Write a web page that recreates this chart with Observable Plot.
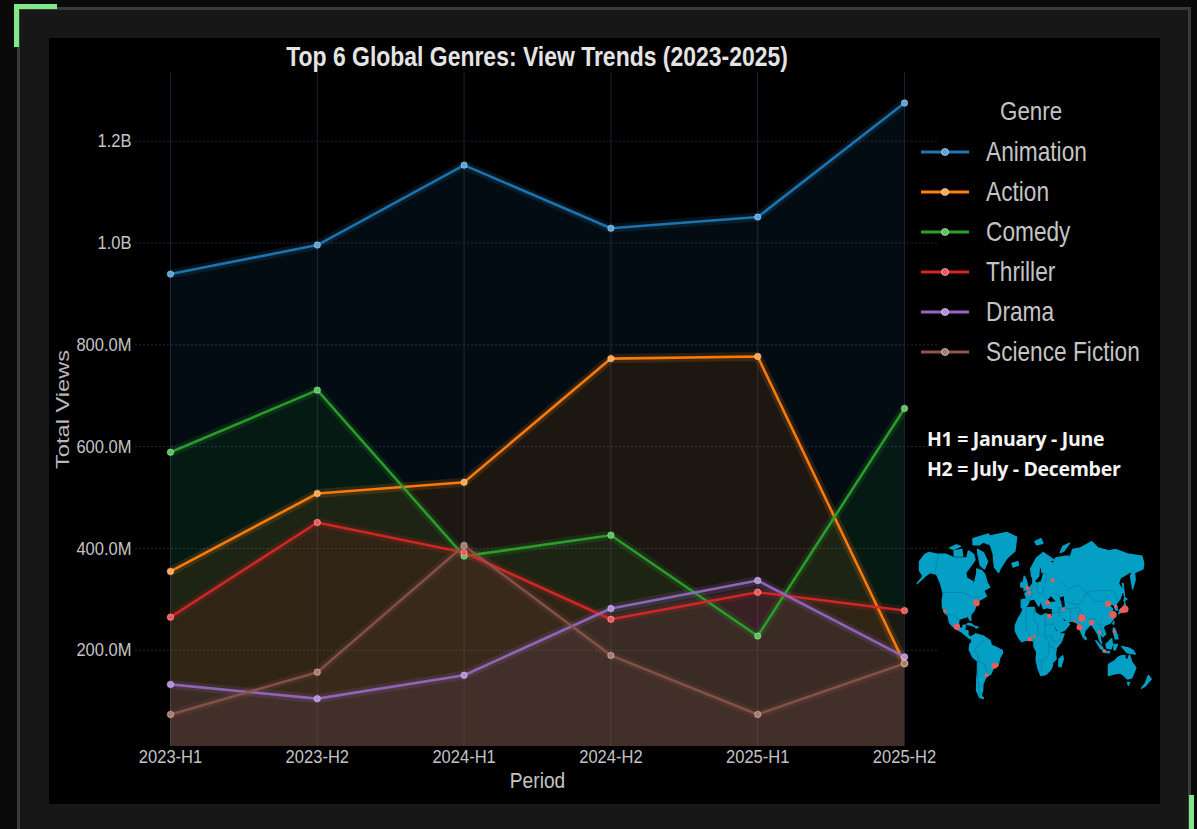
<!DOCTYPE html>
<html><head><meta charset="utf-8">
<script src="https://cdn.jsdelivr.net/npm/d3@7"></script>
<script src="https://cdn.jsdelivr.net/npm/@observablehq/plot@0.6"></script>
<style>
html,body{margin:0;padding:0;background:#0a0a0a;width:1197px;height:829px;overflow:hidden}
#frame{position:absolute;left:17px;top:7px;width:1168px;height:840px;background:#171717;border:3px solid #3a3a3a}
.corner{position:absolute;background:#7fe88a}
#panel{position:absolute;left:49px;top:38px;width:1111px;height:766px;background:#000}
#chart,#map{position:absolute}
#chart{left:49px;top:38px}
#map{left:905px;top:525px}
#title{position:absolute;left:49px;width:976px;top:42px;text-align:center;font:bold 27px/30px "Liberation Sans",sans-serif;color:#e4e4e4;transform:scaleX(.85);transform-origin:488px 0;white-space:nowrap}
#legend{position:absolute;left:921px;top:92px;width:239px;font-family:"Liberation Sans",sans-serif;color:#c4c4c4}
#legend .h{position:absolute;left:79px;top:4px;font-size:26px;line-height:30px;transform:scaleX(.86);transform-origin:0 0}
#legend .r{position:absolute;left:0;height:30px;width:239px}
#legend .r span{position:absolute;left:65px;top:0;font-size:28px;line-height:30px;white-space:nowrap;transform:scaleX(.81);transform-origin:0 0}
#legend svg{position:absolute;left:0;top:0}
#notes{position:absolute;left:927px;top:424px;font:bold 19.5px/30px "Open Sans",sans-serif;color:#f4f4f4;letter-spacing:-.3px;white-space:nowrap}
</style></head><body>
<div id="frame"></div>
<div class="corner" style="left:14px;top:4px;width:43px;height:5px"></div>
<div class="corner" style="left:14px;top:4px;width:5px;height:43px"></div>
<div class="corner" style="left:1189px;top:795px;width:5px;height:34px"></div>
<div id="panel"></div>
<div id="chart"></div>
<div id="map"></div>
<div id="title">Top 6 Global Genres: View Trends (2023-2025)</div>
<div id="legend"></div>
<div id="notes"><div>H1 = January - June</div><div>H2 = July - December</div></div>
<script>
// ---------- chart data (millions of views) ----------
const periods = ["2023-H1","2023-H2","2024-H1","2024-H2","2025-H1","2025-H2"];
const genres = ["Animation","Action","Comedy","Thriller","Drama","Science Fiction"];
const colors = ["#1f77b4","#ff7f0e","#2ca02c","#d62728","#9467bd","#8c564b"];
const dotColors = ["#5aa5dc","#ffa850","#5cc45c","#f0585a","#b48ee0","#a87c6e"];
const animation = [939,996,1153,1029,1051,1275];
const action    = [355,508,530,773,777,174];
const comedy    = [589,711,385,426,228,675];
const thriller  = [265,451,392,261,314,278];
const drama     = [133,105,151,282,337,187];
const sciFi     = [74,157,406,190,74,174];
const seriesValues = [animation,action,comedy,thriller,drama,sciFi];
const yTicks = [200,400,600,800,1000,1200];
const yDomain = [11,1335];

const rows = genres.flatMap((g,i)=>periods.map((p,j)=>({genre:g,period:p,views:seriesValues[i][j]})));
const fmt = v => v>=1000 ? (v/1000).toFixed(1)+"B" : v.toFixed(1)+"M";
const sans = '"Liberation Sans",sans-serif';
const colorScale = {domain:genres,range:colors};

const chart = Plot.plot({
  width:1111,height:766,marginLeft:121,marginRight:256,marginTop:34,marginBottom:58,
  style:{background:"transparent",fontFamily:sans,fontSize:"19px",color:"#c4c4c4",overflow:"visible"},
  x:{type:"point",domain:periods,label:null,padding:0,round:false},
  y:{domain:yDomain,label:null},
  color:colorScale,
  marks:[
    Plot.ruleX(periods,{x:d=>d,stroke:"#1e1e30",strokeWidth:1}),
    Plot.ruleY(yTicks,{y:d=>d,stroke:"#26263e",strokeWidth:1,strokeDasharray:"2,2",insetLeft:-35,insetRight:-35}),
    ...genres.map(g=>Plot.areaY(rows.filter(d=>d.genre===g),{x:"period",y1:yDomain[0],y2:"views",fill:"genre",fillOpacity:.1})),
    ...genres.map(g=>Plot.lineY(rows.filter(d=>d.genre===g),{x:"period",y:"views",stroke:"genre",strokeWidth:9,strokeOpacity:.16})),
    ...genres.map(g=>Plot.lineY(rows.filter(d=>d.genre===g),{x:"period",y:"views",stroke:"genre",strokeWidth:2.6,strokeOpacity:g==="Science Fiction"?.85:.95})),
    Plot.dot(rows,{x:"period",y:"views",r:3.2,fill:d=>dotColors[genres.indexOf(d.genre)],stroke:"#ffffff",strokeOpacity:.35,strokeWidth:1}),
    Plot.axisX({tickSize:0,tickPadding:3,fontSize:19,label:null,fill:"#c4c4c4"}),
    Plot.axisY({ticks:yTicks,tickFormat:fmt,tickSize:0,tickPadding:39,fontSize:19,label:null,fill:"#c4c4c4"}),
    Plot.text(["Period"],{frameAnchor:"bottom",textAnchor:"middle",dy:41,fontSize:22,fill:"#c4c4c4"}),
    Plot.text(["Total Views"],{frameAnchor:"left",textAnchor:"middle",rotate:-90,dx:-108,fontSize:19,fill:"#b8b8b8"})
  ]
});
document.getElementById("chart").append(chart);
// the reference's type is horizontally condensed
chart.querySelectorAll("text").forEach(t=>{
  if (t.textContent==="Total Views") { t.setAttribute("textLength",119); t.setAttribute("lengthAdjust","spacingAndGlyphs"); return; }
  t.setAttribute("textLength",(t.getComputedTextLength()*.87).toFixed(1));
  t.setAttribute("lengthAdjust","spacingAndGlyphs");
});

// ---------- legend ----------
const legend = document.getElementById("legend");
legend.innerHTML = '<div class="h">Genre</div>' + genres.map((g,i)=>
  `<div class="r" style="top:${44.6+i*40.1}px"><svg width="50" height="30"><line x1="0" x2="48" y1="15" y2="15" stroke="${colors[i]}" stroke-width="3"/><circle cx="24" cy="15" r="3.6" fill="${dotColors[i]}" stroke="#fff" stroke-opacity=".5"/></svg><span>${g}</span></div>`).join("");

// ---------- map data: [lon, lat] rings ----------
const landRings = [
 [[-168,66],[-162,70],[-156,71],[-141,70],[-128,70],[-115,68],[-108,68],[-95,68],[-94,72],[-85,70],[-82,67],[-87,64],[-94,60],[-92,57],[-82,55],[-80,51],[-79,55],[-77,60],[-78,62],[-70,61],[-65,59],[-60,54],[-56,52],[-65,50],[-60,46],[-66,44],[-70,43],[-74,40],[-76,35],[-81,31],[-80,26],[-82,27],[-84,30],[-90,29],[-97,27],[-97,22],[-95,18],[-91,18],[-90,21],[-87,21],[-88,16],[-83,15],[-83,10],[-78,9],[-80,7],[-85,10],[-92,14],[-97,16],[-105,20],[-110,24],[-113,31],[-117,32],[-122,37],[-124,43],[-124,48],[-130,54],[-138,59],[-148,60],[-155,58],[-165,54],[-158,58],[-165,61]],
 [[-73,78],[-60,82],[-35,84],[-18,81],[-20,72],[-32,68],[-42,62],[-44,60],[-51,63],[-54,70],[-60,76]],
 [[-80,73],[-70,71],[-62,66],[-66,62],[-73,64],[-78,70]],
 [[-117,72],[-105,73],[-102,69],[-115,69]],
 [[-90,80],[-65,83],[-62,81],[-78,76],[-88,76]],
 [[-125,74],[-115,76],[-108,75],[-118,73]],
 [[-85,22],[-75,20],[-78,22],[-82,23]],
 [[-74,20],[-69,19],[-72,18]],
 [[-78,9],[-72,12],[-62,10],[-52,5],[-50,0],[-44,-2],[-35,-6],[-35,-9],[-39,-15],[-41,-22],[-48,-26],[-53,-34],[-58,-35],[-62,-39],[-65,-43],[-66,-48],[-69,-52],[-66,-55],[-72,-54],[-75,-48],[-73,-38],[-71,-30],[-70,-18],[-76,-14],[-81,-5],[-80,1],[-77,4],[-78,7]],
 [[-17,15],[-17,21],[-13,28],[-9,32],[-6,36],[3,37],[10,37],[11,33],[19,30],[25,32],[32,31],[34,28],[37,21],[39,15],[43,12],[51,12],[47,4],[40,-3],[39,-10],[40,-16],[35,-20],[35,-24],[32,-29],[26,-34],[19,-35],[15,-27],[12,-17],[13,-8],[9,-1],[9,4],[4,6],[-4,5],[-8,4],[-13,9]],
 [[-9,37],[-9,43],[-1,44],[-4,48],[2,51],[8,54],[8,57],[11,55],[14,54],[21,55],[24,59],[30,60],[22,60],[21,64],[24,66],[18,62],[17,58],[12,56],[6,58],[5,62],[14,68],[25,71],[41,67],[33,66],[40,65],[44,68],[60,69],[68,69],[72,73],[85,74],[105,78],[113,74],[130,72],[140,73],[160,70],[180,69],[180,65],[177,62],[163,60],[162,56],[156,51],[156,58],[160,61],[150,59],[140,57],[136,54],[141,50],[135,44],[128,40],[129,35],[126,35],[126,38],[122,40],[118,38],[122,36],[120,32],[122,28],[116,23],[109,21],[106,19],[109,12],[105,9],[100,13],[103,2],[100,6],[98,12],[94,17],[90,22],[86,20],[80,15],[78,8],[73,17],[72,21],[67,25],[57,25],[52,28],[48,30],[51,25],[56,25],[59,22],[52,16],[43,13],[39,21],[35,28],[36,36],[27,37],[23,36],[20,41],[14,45],[18,40],[16,38],[10,44],[3,43],[0,39],[-5,36]],
 [[-5,50],[1,51],[-2,56],[-5,58],[-6,55]],
 [[-10,52],[-6,52],[-6,55],[-10,54]],
 [[-24,65],[-15,66],[-14,64],[-22,63]],
 [[12,78],[22,80],[25,77],[15,76]],
 [[52,71],[57,75],[68,77],[58,72]],
 [[130,32],[136,34],[141,36],[141,41],[139,38],[132,35]],
 [[140,42],[145,44],[142,45]],
 [[142,46],[143,54],[142,54]],
 [[44,-16],[49,-12],[50,-16],[47,-25],[44,-24]],
 [[95,5],[104,-2],[106,-6],[101,-3]],
 [[105,-7],[114,-7],[114,-8.5],[106,-8]],
 [[109,1],[117,7],[118,1],[116,-4],[110,-3]],
 [[120,1],[125,1],[122,-5],[120,-5]],
 [[131,-1],[141,-3],[147,-6],[150,-10],[143,-9],[138,-8]],
 [[120,18],[122,18],[124,13],[126,7],[122,7],[120,14]],
 [[120,23],[122,25],[121,22]],
 [[80,9],[82,7],[80,6]],
 [[114,-22],[122,-18],[126,-14],[131,-12],[136,-12],[136,-15],[140,-17],[142,-11],[146,-19],[153,-26],[150,-37],[144,-38],[138,-35],[132,-32],[124,-33],[116,-35],[115,-31]],
 [[145,-41],[148,-41],[147,-43.5]],
 [[173,-35],[178,-38],[175,-41],[172,-44],[167,-46],[171,-42]]
];
const waterRings = [
 [[28,42],[34,46],[41,42],[35,41.5]],
 [[47,45],[53,46],[54,38],[50,37],[49,41]]
];
const borderLines = [
 [[-141,70],[-141,60]],[[-124,49],[-95,49],[-83,46],[-75,45],[-67,47]],[[-117,32],[-106,31],[-97,26]],
 [[-70,-18],[-60,-22],[-58,-33]],[[-72,-54],[-71,-30],[-69,-18],[-69,-10],[-74,-7],[-70,0],[-67,2],[-60,5]],
 [[-2,35],[-2,15],[3,11],[3,6]],[[10,37],[9,25],[14,23],[15,12],[9,4]],[[25,32],[25,20],[24,9],[30,4],[30,-8],[28,-13],[22,-17],[12,-17]],
 [[25,22],[37,22]],[[24,9],[34,10],[35,5],[41,4],[47,8]],[[30,-1],[40,-4]],[[20,-17],[20,-29],[17,-29]],
 [[-2,43],[3,43],[7,48],[6,51],[14,54]],[[14,54],[15,49],[22,48],[24,52],[28,56],[28,60]],[[22,48],[29,45]],
 [[40,48],[48,46]],[[47,42],[60,41],[73,39],[80,42],[87,49],[98,50],[110,50],[118,50],[127,50],[131,43]],[[50,55],[60,51],[77,53],[87,49]],
 [[87,49],[98,42],[110,42],[118,47]],[[61,36],[61,25]],[[46,30],[45,37],[61,36],[74,37],[78,32],[88,27],[97,28],[98,22],[102,22],[106,22]],
 [[67,25],[71,28],[74,34]],[[36,33],[46,33]],[[101,21],[105,15],[105,10]]
];
const cities = [
 {name:"New York",lon:-74,lat:40.7,r:3.4},{name:"Los Angeles",lon:-118,lat:34,r:1.8},{name:"Mexico City",lon:-99,lat:19.4,r:3.2},
 {name:"Sao Paulo",lon:-46.6,lat:-23.5,r:3},{name:"Rio",lon:-43,lat:-22.9,r:1.8},{name:"Buenos Aires",lon:-58.4,lat:-34.6,r:2},
 {name:"London",lon:0,lat:51.5,r:2},{name:"Paris",lon:2.3,lat:48.9,r:2},{name:"Moscow",lon:37.6,lat:55.8,r:2},
 {name:"Istanbul",lon:29,lat:41,r:2.4},{name:"Cairo",lon:31,lat:30,r:2.4},{name:"Lagos",lon:3.4,lat:6.5,r:2.4},{name:"Accra",lon:10,lat:9,r:1.6},
 {name:"Tehran",lon:51.4,lat:35.7,r:1.4},{name:"Karachi",lon:67,lat:24.9,r:1.4},{name:"Delhi",lon:77,lat:28.6,r:3.6},{name:"Mumbai",lon:72.9,lat:19,r:3},
 {name:"Dhaka",lon:90,lat:23.7,r:2.6},{name:"Bangkok",lon:100.5,lat:13.8,r:1.6},{name:"Jakarta",lon:106.8,lat:-6.2,r:1.8},{name:"Manila",lon:121,lat:14.6,r:1.6},
 {name:"Beijing",lon:116.4,lat:39.9,r:3},{name:"Shanghai",lon:121.5,lat:31.2,r:3.8},{name:"Seoul",lon:127,lat:37.6,r:1.8},{name:"Osaka",lon:135.5,lat:34.7,r:2.6},{name:"Tokyo",lon:139.7,lat:35.7,r:3.6}
];
// latitude ruler measured on the inset (a Robinson-like projection)
const rulerLat = [-55,-35,0,29,49,71,84];
const rulerPx  = [173,150,120,92,67,27,7];
const latScale = d3.scaleLinear().domain(rulerLat).range(rulerPx);
const mapW = 255, mapH = 180;
const lonScale = d3.scaleLinear().domain([0,180]).range([122,122+180*.72]);
const shrink = lat => 1-.12*Math.pow(Math.abs(lat)/70,2);
const project = d3.geoTransform({point(lon,lat){this.stream.point(lonScale(lon*shrink(lat)),latScale(lat));}});
const close = r => [...r,r[0]];
const land = {type:"MultiPolygon",coordinates:landRings.map(r=>[close(r)])};
const water = {type:"MultiPolygon",coordinates:waterRings.map(r=>[close(r)])};
const borders = {type:"MultiLineString",coordinates:borderLines};
const map = Plot.plot({
  width:mapW,height:mapH,margin:0,
  style:{background:"transparent",overflow:"visible"},
  projection:{stream:project.stream,aspectRatio:mapH/mapW},
  r:{type:"identity"},
  marks:[
    Plot.geo([land],{fill:"#049fc4",stroke:"#049fc4",strokeWidth:1.4,strokeLinejoin:"round"}),
    Plot.geo([water],{fill:"#000"}),
    Plot.geo([borders],{stroke:"#0a6f8c",strokeWidth:.5,fill:"none"}),
    Plot.dot(cities,{x:"lon",y:"lat",r:"r",fill:"#e85c5c"})
  ]
});
document.getElementById("map").append(map);
</script>
</body></html>
